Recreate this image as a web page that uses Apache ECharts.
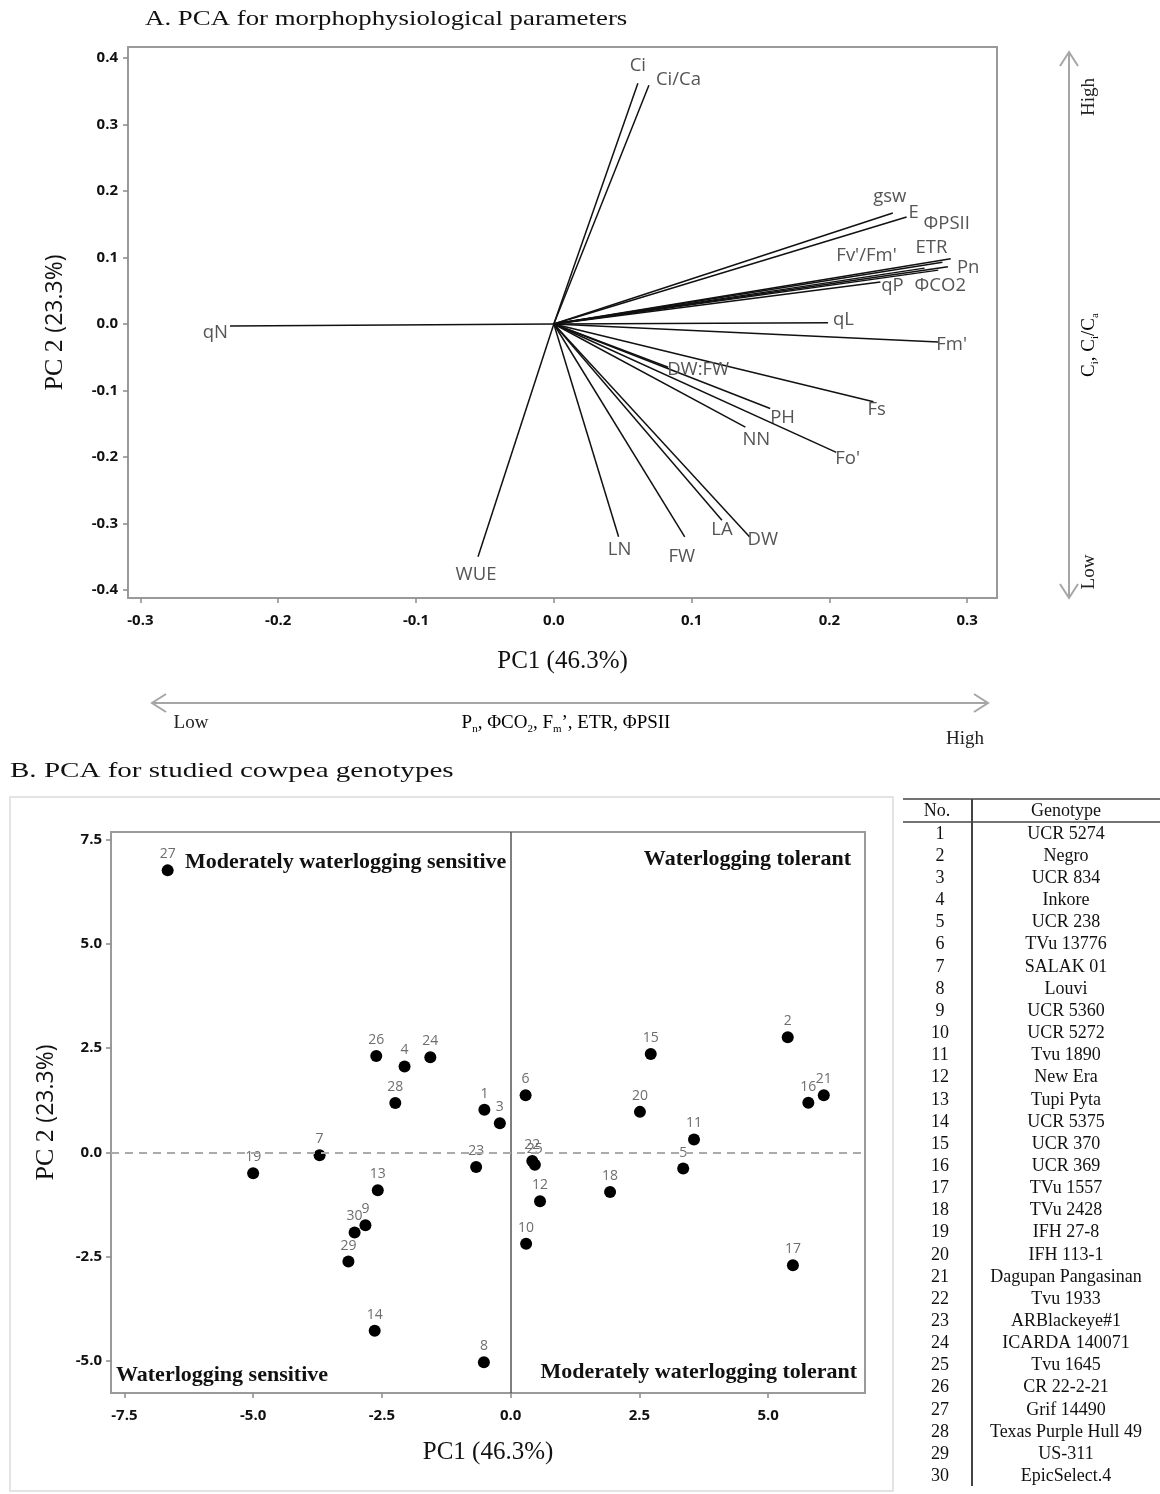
<!DOCTYPE html>
<html>
<head>
<meta charset="utf-8">
<script src="https://cdn.jsdelivr.net/npm/echarts@6/dist/echarts.min.js"></script>
<style>
  html, body { margin: 0; padding: 0; background: #fff; }
  #chart { width: 1160px; height: 1494px; }
</style>
</head>
<body>
<div id="chart"></div>
<script>
// ---- Panel A: loadings of the morphophysiological parameters on PC1 / PC2 ----
const loadingNames = ['Ci', 'Ci/Ca', 'gsw', 'E', 'ΦPSII', 'ETR', 'Pn', "Fv'/Fm'", 'ΦCO2', 'qP', 'qL', "Fm'",
  'Fs', "Fo'", 'PH', 'NN', 'DW:FW', 'DW', 'LA', 'FW', 'LN', 'WUE', 'qN'];
const loadingPC1 = [0.061, 0.069, 0.246, 0.256, 0.288, 0.282, 0.286, 0.269, 0.279, 0.237, 0.199, 0.279,
  0.232, 0.205, 0.157, 0.139, 0.083, 0.142, 0.122, 0.095, 0.047, -0.055, -0.235];
const loadingPC2 = [0.362, 0.359, 0.167, 0.161, 0.098, 0.093, 0.086, 0.084, 0.081, 0.063, 0.002, -0.027,
  -0.117, -0.193, -0.127, -0.155, -0.065, -0.320, -0.295, -0.320, -0.320, -0.350, -0.003];
const loadingTicksX = [-0.3, -0.2, -0.1, 0.0, 0.1, 0.2, 0.3];
const loadingTicksY = [-0.4, -0.3, -0.2, -0.1, 0.0, 0.1, 0.2, 0.3, 0.4];

// ---- Panel B: genotype scores on PC1 / PC2 ----
const genotypeNo = [1, 2, 3, 4, 5, 6, 7, 8, 9, 10, 11, 12, 13, 14, 15, 16, 17, 18, 19, 20, 21, 22, 23, 24, 25, 26, 27, 28, 29, 30];
const genotypeName = ['UCR 5274', 'Negro', 'UCR 834', 'Inkore', 'UCR 238', 'TVu 13776', 'SALAK 01', 'Louvi',
  'UCR 5360', 'UCR 5272', 'Tvu 1890', 'New Era', 'Tupi Pyta', 'UCR 5375', 'UCR 370', 'UCR 369', 'TVu 1557',
  'TVu 2428', 'IFH 27-8', 'IFH 113-1', 'Dagupan Pangasinan', 'Tvu 1933', 'ARBlackeye#1', 'ICARDA 140071',
  'Tvu 1645', 'CR 22-2-21', 'Grif 14490', 'Texas Purple Hull 49', 'US-311', 'EpicSelect.4'];
const scorePC1 = [-0.51, 5.38, -0.21, -2.06, 3.35, 0.29, -3.71, -0.52, -2.82, 0.30, 3.56, 0.57, -2.58, -2.64, 2.72,
  5.78, 5.48, 1.93, -5.00, 2.51, 6.08, 0.42, -0.67, -1.56, 0.47, -2.61, -6.66, -2.24, -3.15, -3.03];
const scorePC2 = [1.02, 2.76, 0.70, 2.06, -0.39, 1.37, -0.07, -5.03, -1.75, -2.19, 0.31, -1.17, -0.91, -4.28, 2.36,
  1.19, -2.71, -0.95, -0.50, 0.97, 1.37, -0.21, -0.35, 2.28, -0.30, 2.31, 6.76, 1.18, -2.62, -1.92];
const scoreTicksX = [-7.5, -5.0, -2.5, 0.0, 2.5, 5.0];
const scoreTicksY = [-5.0, -2.5, 0.0, 2.5, 5.0, 7.5];
const quadrantLabels = ['Moderately waterlogging sensitive', 'Waterlogging tolerant',
  'Waterlogging sensitive', 'Moderately waterlogging tolerant'];

// label placement next to each loading arrow tip: [dx, dy, align]
const loadingLabelPlace = {
  'Ci': [0, -18, 'center'], 'Ci/Ca': [7, -6, 'left'], 'gsw': [-3, -16, 'center'], 'E': [2, -4, 'left'],
  'ΦPSII': [-4, -35, 'center'], 'ETR': [-11, -14, 'center'], 'Pn': [9, 1, 'left'], "Fv'/Fm'": [-58, -12, 'center'],
  'ΦCO2': [2, 16, 'center'], 'qP': [12, 4, 'center'], 'qL': [5, -3, 'left'], "Fm'": [-2, 3, 'left'],
  'Fs': [-6, 8, 'left'], "Fo'": [-1, 6, 'left'], 'PH': [0, 9, 'left'], 'NN': [11, 13, 'center'],
  'DW:FW': [30, 3, 'center'], 'DW': [-2, 3, 'left'], 'LA': [0, 10, 'center'], 'FW': [-3, 20, 'center'],
  'LN': [1, 13, 'center'], 'WUE': [-2, 18, 'center'], 'qN': [-2, 7, 'right']
};

const SERIF = 'Liberation Serif';
const SANS = 'Open Sans';
const tickLabelStyle = { color: '#111', fontFamily: SANS, fontWeight: 'bold', fontSize: 15 };
const fmt1 = v => Number(v).toFixed(1);

function renderLoading(params, api) {
  const name = loadingNames[params.dataIndex];
  const o = api.coord([0, 0]);
  const p = api.coord([api.value(0), api.value(1)]);
  const pl = loadingLabelPlace[name] || [4, 0, 'left'];
  return {
    type: 'group',
    children: [
      { type: 'line', shape: { x1: o[0], y1: o[1], x2: p[0], y2: p[1] },
        style: { stroke: '#111', lineWidth: 1.5 } },
      { type: 'text', x: p[0] + pl[0], y: p[1] + pl[1],
        style: { text: name, fill: '#555', fontSize: 18.5, fontFamily: SANS, align: pl[2], verticalAlign: 'middle' } }
    ]
  };
}

// double-headed grey arrow
function arrow(x1, y1, x2, y2) {
  const len = Math.hypot(x2 - x1, y2 - y1), ux = (x2 - x1) / len, uy = (y2 - y1) / len;
  const L = 14, W = 9, nx = -uy, ny = ux;
  const st = { stroke: '#a6a6a6', lineWidth: 2, fill: null };
  return [
    { type: 'line', shape: { x1, y1, x2, y2 }, style: st },
    { type: 'polyline', shape: { points: [[x1 + ux * L + nx * W, y1 + uy * L + ny * W], [x1, y1], [x1 + ux * L - nx * W, y1 + uy * L - ny * W]] }, style: st },
    { type: 'polyline', shape: { points: [[x2 - ux * L + nx * W, y2 - uy * L + ny * W], [x2, y2], [x2 - ux * L - nx * W, y2 - uy * L - ny * W]] }, style: st }
  ];
}

const subRich = {
  n: { fontFamily: SERIF, fontSize: 19, color: '#222', lineHeight: 24 },
  s: { fontFamily: SERIF, fontSize: 11, color: '#222', verticalAlign: 'bottom', lineHeight: 24 }
};
const annoStyle = { fontFamily: SERIF, fontSize: 19, fill: '#222', align: 'center', verticalAlign: 'middle' };

const graphics = [];
// panel titles
graphics.push({ type: 'text', x: 145, y: 19, scaleX: 1.22,
  style: { text: 'A. PCA for morphophysiological parameters', fontFamily: SERIF, fontSize: 22, fill: '#111', verticalAlign: 'middle' } });
graphics.push({ type: 'text', x: 10, y: 771, scaleX: 1.32,
  style: { text: 'B. PCA for studied cowpea genotypes', fontFamily: SERIF, fontSize: 22, fill: '#111', verticalAlign: 'middle' } });
// PC1 direction arrow
arrow(152, 703, 988, 703).forEach(g => graphics.push(g));
graphics.push({ type: 'text', x: 191, y: 723, style: Object.assign({ text: 'Low' }, annoStyle) });
graphics.push({ type: 'text', x: 566, y: 723, style: {
  text: '{n|P}{s|n}{n|, ΦCO}{s|2}{n|, F}{s|m}{n|’, ETR, ΦPSII}', rich: subRich, align: 'center', verticalAlign: 'middle' } });
graphics.push({ type: 'text', x: 965, y: 739, style: Object.assign({ text: 'High' }, annoStyle) });
// PC2 direction arrow
arrow(1069, 52, 1069, 598).forEach(g => graphics.push(g));
graphics.push({ type: 'text', x: 1089, y: 97, rotation: Math.PI / 2, style: Object.assign({ text: 'High' }, annoStyle) });
graphics.push({ type: 'text', x: 1089, y: 345, rotation: Math.PI / 2, style: {
  text: '{n|C}{s|i}{n|, C}{s|i}{n|/C}{s|a}', rich: subRich, align: 'center', verticalAlign: 'middle' } });
graphics.push({ type: 'text', x: 1089, y: 572, rotation: Math.PI / 2, style: Object.assign({ text: 'Low' }, annoStyle) });
// panel B outer box
graphics.push({ type: 'rect', shape: { x: 10, y: 797, width: 883, height: 694 }, style: { fill: null, stroke: '#dcdcdc', lineWidth: 1.5 } });
// quadrant captions
const qStyle = { fontFamily: SERIF, fontWeight: 'bold', fontSize: 22, fill: '#111', verticalAlign: 'middle' };
graphics.push({ type: 'text', x: 185, y: 862, style: Object.assign({ text: quadrantLabels[0], align: 'left' }, qStyle) });
graphics.push({ type: 'text', x: 851, y: 859, style: Object.assign({ text: quadrantLabels[1], align: 'right' }, qStyle) });
graphics.push({ type: 'text', x: 116, y: 1375, style: Object.assign({ text: quadrantLabels[2], align: 'left' }, qStyle) });
graphics.push({ type: 'text', x: 857, y: 1372, style: Object.assign({ text: quadrantLabels[3], align: 'right' }, qStyle) });
// genotype key table
const rowH = 22.15, row0 = 834;
const tStyle = { fontFamily: SERIF, fontSize: 18, fill: '#111', align: 'center', verticalAlign: 'middle' };
graphics.push({ type: 'line', shape: { x1: 903, y1: 799, x2: 1160, y2: 799 }, style: { stroke: '#444', lineWidth: 1.5 } });
graphics.push({ type: 'line', shape: { x1: 903, y1: 822, x2: 1160, y2: 822 }, style: { stroke: '#444', lineWidth: 1.5 } });
graphics.push({ type: 'line', shape: { x1: 972, y1: 799, x2: 972, y2: 1486 }, style: { stroke: '#444', lineWidth: 2 } });
graphics.push({ type: 'text', x: 937, y: 811, style: Object.assign({ text: 'No.' }, tStyle) });
graphics.push({ type: 'text', x: 1066, y: 811, style: Object.assign({ text: 'Genotype' }, tStyle) });
genotypeNo.forEach((n, i) => {
  graphics.push({ type: 'text', x: 940, y: row0 + i * rowH, style: Object.assign({ text: String(n) }, tStyle) });
  graphics.push({ type: 'text', x: 1066, y: row0 + i * rowH, style: Object.assign({ text: genotypeName[i] }, tStyle) });
});

const yName = '{a|PC 2 }{b|(23.3%)}';
const yNameStyle = { rich: { a: { fontFamily: SERIF, fontSize: 26, color: '#111' }, b: { fontFamily: SANS, fontSize: 23, color: '#111' } } };
const xNameStyle = { fontFamily: SERIF, fontSize: 25, color: '#111' };
function tickAxis(ticks) {
  return {
    axisLine: { show: false, onZero: false }, splitLine: { show: false },
    axisTick: { show: true, length: 5, customValues: ticks, lineStyle: { color: '#8a8a8a', width: 1.5 } }
  };
}

const option = {
  backgroundColor: '#fff',
  animation: false,
  grid: [
    { left: 128, top: 47, width: 869, height: 551, show: true, borderColor: '#9a9a9a', borderWidth: 2 },
    { left: 111, top: 832, width: 754, height: 561, show: true, borderColor: '#9a9a9a', borderWidth: 2 }
  ],
  xAxis: [
    Object.assign({ gridIndex: 0, type: 'value', min: -0.309, max: 0.3216,
      axisLabel: Object.assign({ customValues: loadingTicksX, formatter: fmt1, margin: 15 }, tickLabelStyle),
      name: 'PC1 (46.3%)', nameLocation: 'middle', nameGap: 51, nameTextStyle: xNameStyle }, tickAxis(loadingTicksX)),
    Object.assign({ gridIndex: 1, type: 'value', min: -7.76, max: 6.88,
      axisLabel: Object.assign({ customValues: scoreTicksX, formatter: fmt1, margin: 15 }, tickLabelStyle),
      name: 'PC1 (46.3%)', nameLocation: 'middle', nameGap: 47, nameTextStyle: xNameStyle }, tickAxis(scoreTicksX))
  ],
  yAxis: [
    Object.assign({ gridIndex: 0, type: 'value', min: -0.412, max: 0.4165,
      axisLabel: Object.assign({ customValues: loadingTicksY, formatter: fmt1, margin: 10 }, tickLabelStyle),
      name: yName, nameLocation: 'middle', nameGap: 60, nameTextStyle: yNameStyle }, tickAxis(loadingTicksY)),
    Object.assign({ gridIndex: 1, type: 'value', min: -5.77, max: 7.68,
      axisLabel: Object.assign({ customValues: scoreTicksY, formatter: fmt1, margin: 9 }, tickLabelStyle),
      name: yName, nameLocation: 'middle', nameGap: 52, nameTextStyle: yNameStyle }, tickAxis(scoreTicksY))
  ],
  series: [
    { type: 'custom', xAxisIndex: 0, yAxisIndex: 0, silent: true, clip: false,
      renderItem: renderLoading,
      data: loadingNames.map((n, i) => [loadingPC1[i], loadingPC2[i]]) },
    { type: 'scatter', xAxisIndex: 1, yAxisIndex: 1, silent: true,
      symbol: 'circle', symbolSize: 12, itemStyle: { color: '#000', opacity: 1 },
      label: { show: true, position: 'top', distance: 3, formatter: '{b}', color: '#6e6e6e', fontSize: 14, fontFamily: SANS },
      data: genotypeNo.map((n, i) => ({ name: String(n), value: [scorePC1[i], scorePC2[i]] })),
      markLine: { silent: true, symbol: 'none', label: { show: false },
        data: [
          { xAxis: 0, lineStyle: { type: 'solid', color: '#555', width: 1.5 } },
          { yAxis: 0, lineStyle: { type: [8, 6], color: '#aaa', width: 2 } }
        ] },
      z: 3 }
  ],
  graphic: graphics
};

const chart = echarts.init(document.getElementById('chart'));
chart.setOption(option);
</script>
</body>
</html>
